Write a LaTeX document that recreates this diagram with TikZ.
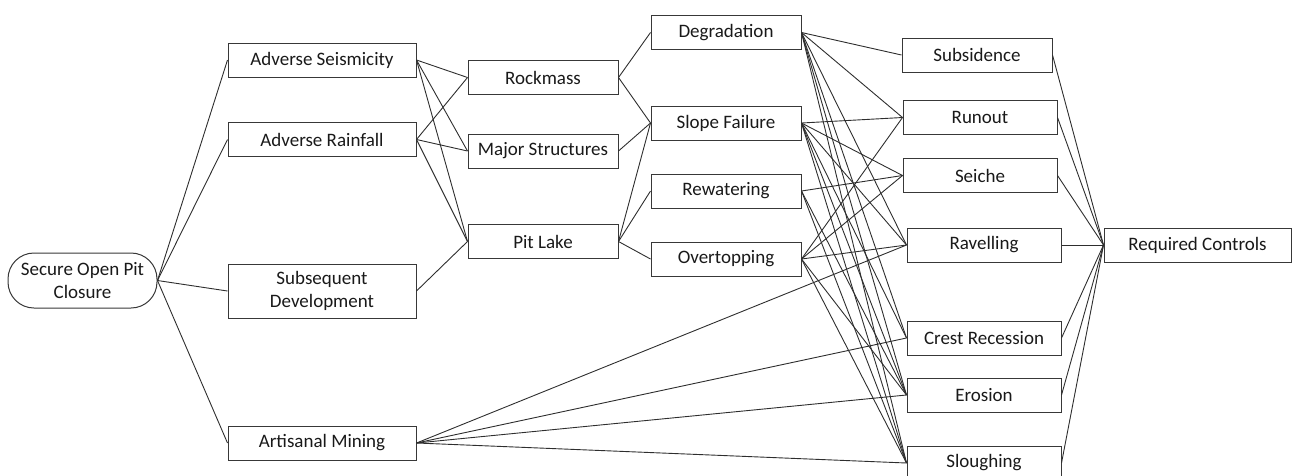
\documentclass[tikz,border=0pt]{standalone}
\usepackage{fontspec}
\setmainfont{Carlito}
\begin{document}
\begin{tikzpicture}[x=1pt,y=-1pt,
  box/.style={draw=black!78,line width=1pt,rectangle,inner sep=0pt,align=center,
    text=black!90,font=\fontsize{19}{23.5}\selectfont},
  wide/.style={box,minimum width=188pt,minimum height=34pt},
  mid/.style={box,minimum width=150pt,minimum height=34pt},
  rgt/.style={box,minimum width=154pt,minimum height=34pt},
  link/.style={draw=black!82,line width=0.9pt}]
\useasboundingbox (0,0) rectangle (1292,475);
% nodes
\node[box,minimum width=149pt,minimum height=55pt,rounded corners=26pt] (soc) at (82.5,280.5) {Secure Open Pit\\Closure};
\node[wide] (as) at (322,60) {Adverse Seismicity};
\node[wide] (ar) at (322,139.5) {Adverse Rainfall};
\node[wide,minimum height=54pt] (sd) at (322,291) {Subsequent\\Development};
\node[wide] (am) at (322,443) {Artisanal Mining};
\node[mid] (rm) at (543,77.5) {Rockmass};
\node[mid] (ms) at (543,151) {Major Structures};
\node[mid] (pl) at (543,241.5) {Pit Lake};
\node[mid] (dg) at (726,32.5) {Degradation};
\node[mid] (sf) at (726,123) {Slope Failure};
\node[mid] (rw) at (726,191) {Rewatering};
\node[mid] (ov) at (726,259) {Overtopping};
\node[mid] (sb) at (977,55) {Subsidence};
\node[rgt] (ru) at (980,117.5) {Runout};
\node[rgt] (se) at (980,175.5) {Seiche};
\node[rgt] (rv) at (984,245) {Ravelling};
\node[rgt] (cr) at (984,338) {Crest Recession};
\node[rgt] (er) at (984,395) {Erosion};
\node[rgt] (sl) at (984,463) {Sloughing};
\node[box,minimum width=187pt,minimum height=34pt] (rc) at (1197.5,245) {Required Controls};
% connectors
\foreach \t in {as,ar,sd,am} \draw[link] (soc.east) -- (\t.west);
\foreach \s in {as,ar} \foreach \t in {rm,ms,pl} \draw[link] (\s.east) -- (\t.west);
\draw[link] (sd.east) -- (pl.west);
\draw[link] (rm.east) -- (dg.west);
\draw[link] (rm.east) -- (sf.west);
\draw[link] (ms.east) -- (sf.west);
\foreach \t in {sf,rw,ov} \draw[link] (pl.east) -- (\t.west);
\foreach \t in {sb,ru,rv,cr,er,sl} \draw[link] (dg.east) -- (\t.west);
\foreach \t in {ru,se,rv,cr,er,sl} \draw[link] (sf.east) -- (\t.west);
\foreach \t in {se,er,sl} \draw[link] (rw.east) -- (\t.west);
\foreach \t in {ru,se,rv,er,sl} \draw[link] (ov.east) -- (\t.west);
\foreach \t in {rv,cr,er,sl} \draw[link] (am.east) -- (\t.west);
\foreach \s in {sb,ru,se,rv,cr,er,sl} \draw[link] (\s.east) -- (rc.west);
\end{tikzpicture}
\end{document}
